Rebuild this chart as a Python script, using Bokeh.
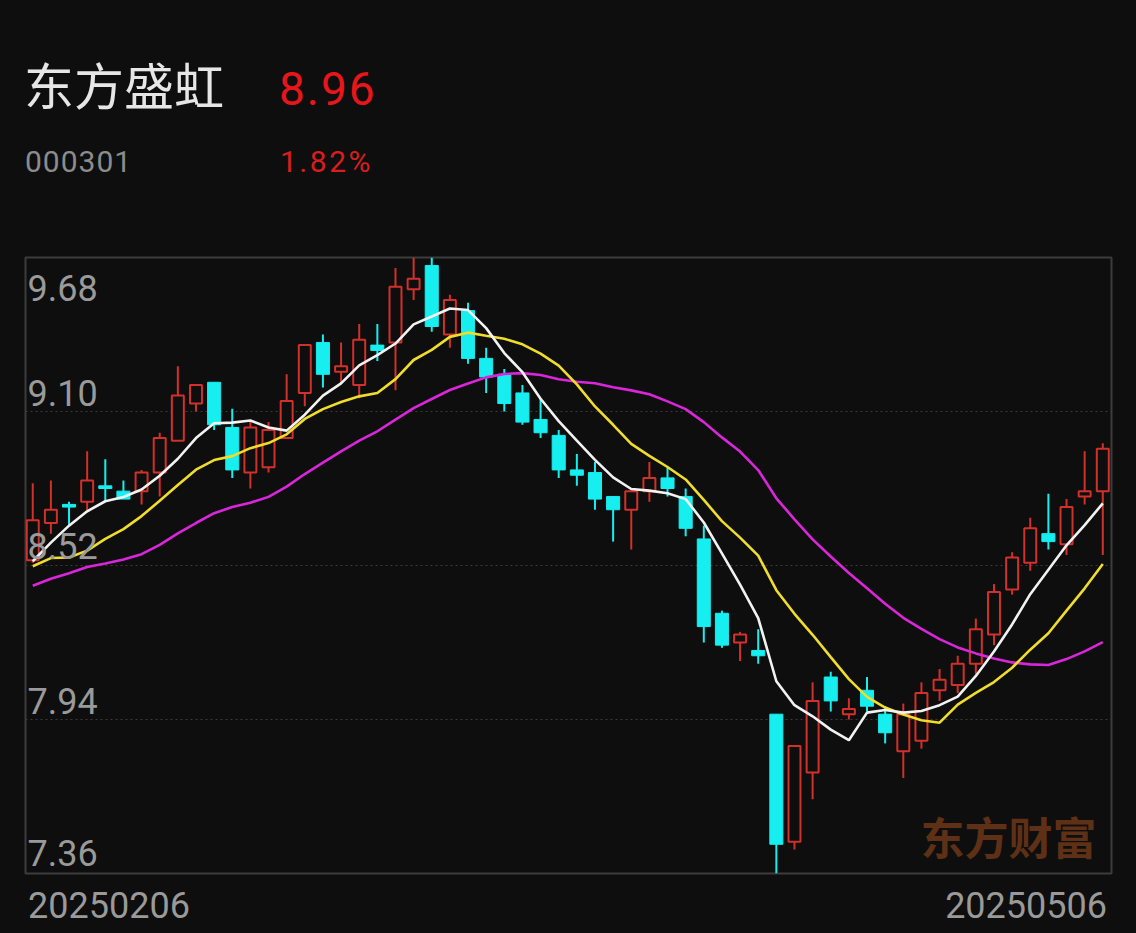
import pandas as pd
from bokeh.plotting import figure
from bokeh.layouts import column
from bokeh.models import (Label, FixedTicker, Range1d, ColumnDataSource, Div,
                          GlobalInlineStyleSheet)
from bokeh.core.properties import value
from bokeh.embed import file_html
from bokeh.resources import INLINE

# ---------------- data ----------------
stock_name = "东方盛虹"
stock_code = "000301"
last_price = "8.96"
pct_change = "1.82%"
watermark = "东方财富"

dates = [
    "20250206", "20250207", "20250210", "20250211", "20250212", "20250213", "20250214",
    "20250217", "20250218", "20250219", "20250220", "20250221", "20250224", "20250225",
    "20250226", "20250227", "20250228",
    "20250303", "20250304", "20250305", "20250306", "20250307", "20250310", "20250311",
    "20250312", "20250313", "20250314", "20250317", "20250318", "20250319", "20250320",
    "20250321", "20250324", "20250325", "20250326", "20250327", "20250328", "20250331",
    "20250401", "20250402", "20250403", "20250407", "20250408", "20250409", "20250410",
    "20250411", "20250414", "20250415", "20250416", "20250417", "20250418", "20250421",
    "20250422", "20250423", "20250424", "20250425", "20250428", "20250429", "20250430",
    "20250506",
]

open_ = [8.54, 8.68, 8.75, 8.76, 8.82, 8.80, 8.80, 8.87, 8.99, 9.13,
         9.21, 9.04, 8.87, 8.89, 9.00, 9.17, 9.36, 9.25, 9.20, 9.35,
         9.36, 9.56, 9.65, 9.39, 9.48, 9.30, 9.24, 9.17, 9.07, 9.01,
         8.88, 8.87, 8.78, 8.73, 8.80, 8.85, 8.78, 8.62, 8.34, 8.23,
         8.20, 7.96, 7.48, 7.74, 8.10, 7.96, 8.05, 7.96, 7.82, 7.86,
         8.05, 8.07, 8.15, 8.26, 8.43, 8.53, 8.64, 8.60, 8.78, 8.80]
high = [8.83, 8.84, 8.76, 8.95, 8.92, 8.84, 8.88, 9.02, 9.27, 9.20,
        9.21, 9.11, 9.06, 9.06, 9.24, 9.35, 9.39, 9.36, 9.43, 9.43,
        9.64, 9.68, 9.68, 9.54, 9.51, 9.34, 9.26, 9.20, 9.15, 9.03,
        8.94, 8.91, 8.78, 8.80, 8.91, 8.89, 8.81, 8.67, 8.35, 8.27,
        8.28, 7.96, 7.84, 8.08, 8.12, 8.02, 8.10, 7.99, 8.00, 8.08,
        8.13, 8.18, 8.32, 8.45, 8.57, 8.70, 8.79, 8.77, 8.95, 8.98]
low = [8.53, 8.64, 8.67, 8.72, 8.76, 8.77, 8.75, 8.78, 8.99, 9.10,
       9.03, 8.85, 8.81, 8.87, 9.00, 9.12, 9.19, 9.21, 9.15, 9.29,
       9.18, 9.52, 9.40, 9.34, 9.28, 9.17, 9.10, 9.05, 9.00, 8.85,
       8.82, 8.73, 8.61, 8.58, 8.76, 8.78, 8.63, 8.23, 8.21, 8.16,
       8.15, 7.36, 7.45, 7.64, 7.97, 7.94, 7.97, 7.85, 7.72, 7.83,
       8.01, 8.04, 8.11, 8.22, 8.41, 8.50, 8.58, 8.56, 8.75, 8.56]
close = [8.69, 8.73, 8.74, 8.84, 8.81, 8.77, 8.87, 9.00, 9.16, 9.20,
         9.05, 8.88, 9.04, 9.03, 9.14, 9.35, 9.24, 9.27, 9.37, 9.33,
         9.57, 9.60, 9.42, 9.52, 9.30, 9.23, 9.13, 9.06, 9.02, 8.88,
         8.86, 8.77, 8.73, 8.80, 8.85, 8.81, 8.66, 8.29, 8.22, 8.26,
         8.18, 7.47, 7.84, 8.01, 8.01, 7.98, 7.99, 7.89, 7.96, 8.04,
         8.09, 8.15, 8.28, 8.42, 8.55, 8.66, 8.61, 8.74, 8.80, 8.96]
# closes of the 19 sessions before the window (needed for the MA warm-up)
prev_close = [8.20, 8.33, 8.36, 8.55, 8.47, 8.47, 8.30, 8.29, 8.42, 8.31,
              8.42, 8.72, 8.58, 8.37, 8.40, 8.38, 8.42, 8.57, 8.62]

y_ticks = [9.68, 9.10, 8.52, 7.94, 7.36]
y_tick_labels = ["9.68", "9.10", "8.52", "7.94", "7.36"]
x_tick_labels = [dates[0], dates[-1]]

# ---------------- styling ----------------
BG = "#0e0e0e"
UP = "#d2302a"
DOWN = "#16eef0"
MA5_C = "#f2f2f2"
MA10_C = "#f0dc2a"
MA20_C = "#da26da"
AXIS_TXT = "#9a9a9a"
NUM_FONT = "Roboto"
CJK_FONT = "Noto Sans CJK SC"

n = len(close)
idx = list(range(n))
all_close = pd.Series(prev_close + close)
ma5 = all_close.rolling(5).mean().tolist()[-n:]
ma10 = all_close.rolling(10).mean().tolist()[-n:]
ma20 = all_close.rolling(20).mean().tolist()[-n:]

up = [c >= o for o, c in zip(open_, close)]


def pick(flag):
    sel = [i for i in idx if up[i] == flag]
    return ColumnDataSource(dict(
        x=sel,
        o=[open_[i] for i in sel], h=[high[i] for i in sel],
        l=[low[i] for i in sel], c=[close[i] for i in sel],
    ))


src_up = pick(True)
src_dn = pick(False)

# ---------------- header ----------------
def span(txt, left, top, size, color, font, spacing=0):
    return (f'<span style="position:absolute;left:{left}px;top:{top}px;'
            f'font-family:\'{font}\';font-size:{size}px;line-height:{size}px;'
            f'letter-spacing:{spacing}px;color:{color};white-space:nowrap;">{txt}</span>')


header_html = (
    '<div style="position:relative;width:1136px;height:250px;background:#0e0e0e;">'
    + span(stock_name, 24, 58, 50, "#e6e6e6", CJK_FONT)
    + span(last_price, 279, 66, 46, "#e8161a", NUM_FONT, 2)
    + span(stock_code, 25, 147, 30, "#8c8c8c", NUM_FONT, 1)
    + span(pct_change, 280, 147, 30, "#d81e1e", NUM_FONT, 2.5)
    + '</div>'
)
header = Div(text=header_html, width=1136, height=250, margin=(0, 0, 0, 0),
             styles={"background-color": BG})

# ---------------- chart ----------------
p = figure(
    width=1136, height=625,
    x_range=Range1d(-0.40, n - 1 + 0.48),
    y_range=Range1d(min(y_ticks), max(y_ticks)),
    output_backend="svg", toolbar_location=None, title_location=None,
    min_border_left=25, min_border_right=25, min_border_top=7, min_border_bottom=2,
    background_fill_color=BG, border_fill_color=BG, margin=(0, 0, 0, 0),
)
p.xaxis.visible = False
p.yaxis.visible = False
p.xgrid.visible = False
p.ygrid.ticker = FixedTicker(ticks=y_ticks[1:-1])
p.ygrid.grid_line_color = "#3a3a3a"
p.ygrid.grid_line_dash = "2 3"
p.ygrid.grid_line_width = 1
p.outline_line_color = "#3c3c3c"
p.outline_line_width = 2

# candles
p.segment(x0="x", y0="l", x1="x", y1="h", source=src_up, line_color=UP, line_width=2)
p.segment(x0="x", y0="l", x1="x", y1="h", source=src_dn, line_color=DOWN, line_width=2)
p.vbar(x="x", width=0.66, top="c", bottom="o", source=src_up,
       fill_color=BG, line_color=UP, line_width=2)
p.vbar(x="x", width=0.72, top="o", bottom="c", source=src_dn,
       fill_color=DOWN, line_color=DOWN, line_width=1)

# moving averages
p.line(idx, ma20, line_color=MA20_C, line_width=2.6)
p.line(idx, ma10, line_color=MA10_C, line_width=2.6)
p.line(idx, ma5, line_color=MA5_C, line_width=2.6)

# y tick labels inside the plot
tick_src = ColumnDataSource(dict(
    x=[-0.40] * len(y_ticks), y=y_ticks, t=y_tick_labels,
    dy=[30, -19, -20, -19, -21],
))
p.text(x="x", y="y", text="t", source=tick_src, x_offset=2, y_offset="dy",
       text_font=value(NUM_FONT), text_font_size="36px", text_color=AXIS_TXT,
       text_baseline="alphabetic", text_align="left")

# watermark
p.add_layout(Label(x=895, y=38, x_units="screen", y_units="screen", text=watermark,
                   text_font=CJK_FONT, text_font_size="44px", text_font_style="bold",
                   text_color="#5e3016", text_baseline="middle", text_align="left"))

# ---------------- footer (first / last date) ----------------
footer_html = (
    '<div style="position:relative;width:1136px;height:55px;background:#0e0e0e;">'
    + span(x_tick_labels[0], 28, 13, 36, AXIS_TXT, NUM_FONT)
    + (f'<span style="position:absolute;right:29px;top:13px;font-family:\'{NUM_FONT}\';'
       f'font-size:36px;line-height:36px;color:{AXIS_TXT};white-space:nowrap;">'
       f'{x_tick_labels[1]}</span>')
    + '</div>'
)
footer = Div(text=footer_html, width=1136, height=55, margin=(0, 0, 0, 0),
             styles={"background-color": BG})

layout = column(header, p, footer, spacing=0, margin=(0, 0, 0, 0),
                styles={"background-color": BG})
layout.stylesheets = [GlobalInlineStyleSheet(css="html, body { background-color: #0e0e0e; margin: 0; }")]

open("out.html", "w").write(file_html(layout, INLINE))
